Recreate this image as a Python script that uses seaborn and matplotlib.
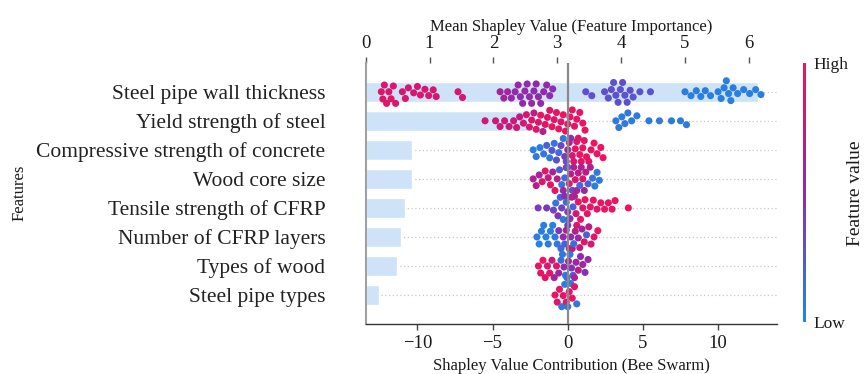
import warnings
warnings.filterwarnings("ignore")
import numpy as np
import pandas as pd
import matplotlib
matplotlib.use("Agg")
import matplotlib.pyplot as plt
import matplotlib as mpl
from matplotlib.colors import LinearSegmentedColormap
import seaborn as sns

# ---------------- data ----------------
features = ["Steel pipe wall thickness", "Yield strength of steel",
            "Compressive strength of concrete", "Wood core size",
            "Tensile strength of CFRP", "Number of CFRP layers",
            "Types of wood", "Steel pipe types"]
mean_importance = [6.14, 2.55, 0.73, 0.72, 0.62, 0.55, 0.49, 0.21]
top_ticks = [0, 1, 2, 3, 4, 5, 6]
bottom_ticks = [-10, -5, 0, 5, 10]

shap_wall = [-12.4, -12.3, -12.2, -12.05, -11.9, -11.75, -11.6, -11.45,
             -11.0, -10.8, -10.6, -10.25, -10.0, -9.8, -9.5, -9.25, -8.95, -8.75,
             -7.3, -7.0, -4.5, -4.25, -4.0, -3.75,
             -3.5, -3.3, -3.15, -3.0, -2.85, -2.7, -2.55, -2.4, -2.25, -2.1, -1.95, -1.8,
             -1.6, -1.4, -1.2, -1.0, 1.2, 1.6,
             2.45, 2.7, 2.9, 3.05, 3.2, 3.35, 3.5, 3.65, 3.8, 3.95, 4.15, 4.35,
             4.8, 5.5, 7.8, 8.2, 8.55, 8.85, 9.15, 9.5,
             10.0, 10.2, 10.4, 10.55, 10.7, 10.85, 11.0,
             11.3, 11.7, 12.1, 12.5, 12.85]
fval_wall = [0.88, 0.9, 0.86, 0.88, 0.85, 0.9, 0.87, 0.86, 0.85, 0.88, 0.84, 0.86,
             0.85, 0.87, 0.85, 0.88, 0.84, 0.86, 0.85, 0.83,
             0.62, 0.6, 0.58, 0.55,
             0.52, 0.55, 0.5, 0.53, 0.55, 0.5, 0.52, 0.54, 0.5, 0.53, 0.51, 0.52,
             0.5, 0.52, 0.5, 0.48, 0.3, 0.3,
             0.3, 0.28, 0.3, 0.27, 0.29, 0.3, 0.28, 0.3, 0.27, 0.29, 0.3, 0.28,
             0.28, 0.27,
             0.06, 0.05, 0.05, 0.04, 0.06, 0.05, 0.04, 0.05, 0.06, 0.05, 0.04, 0.05,
             0.06, 0.04, 0.05, 0.05, 0.04, 0.05]

shap_yield = [-5.5, -4.8, -4.5, -4.2, -3.9, -3.6, -3.4, -3.2, -2.95, -2.75,
              -2.55, -2.4, -2.25, -2.1, -1.95, -1.8, -1.65, -1.5, -1.35, -1.2, -1.05, -0.9, -0.75,
              -0.6, -0.45, -0.3, -0.15, 0.0, 0.15, 0.3, 0.45, 0.6, 0.8, 1.0, 1.15,
              3.2, 3.4, 3.6, 3.8, 4.0, 4.25, 4.6, 5.4, 6.1, 6.9, 7.5, 7.9]
fval_yield = [0.82, 0.8, 0.78, 0.8, 0.75, 0.78, 0.8, 0.72, 0.82, 0.85,
              0.88, 0.9, 0.7, 0.92, 0.88, 0.95, 0.65, 0.9, 0.93, 0.88, 0.95, 0.9, 0.92,
              0.95, 0.9, 0.97, 0.92, 0.95, 0.9, 0.96, 0.93, 0.95, 0.92, 0.97, 0.95,
              0.08, 0.1, 0.06, 0.08, 0.1, 0.07, 0.08, 0.06, 0.08, 0.07, 0.06, 0.08]

shap_concrete = [-2.3, -2.1, -1.85, -1.6, -1.4, -1.2, -1.05, -0.9, -0.75, -0.6,
                 -0.45, -0.3, -0.2, -0.1, 0.0, 0.1, 0.2, 0.3, 0.4, 0.5,
                 0.6, 0.7, 0.8, 0.9, 1.0, 1.1, 1.25, 1.4, 1.55, 1.75, 1.95, 2.2, 2.35]
fval_concrete = [0.05, 0.08, 0.05, 0.1, 0.2, 0.08, 0.25, 0.1, 0.3, 0.15,
                 0.35, 0.1, 0.4, 0.3, 0.55, 0.7, 0.45, 0.85, 0.9, 0.95,
                 0.88, 0.92, 0.97, 0.9, 0.95, 0.93, 0.98, 0.9, 0.95, 0.97, 0.92, 0.95, 0.98]

shap_core = [-2.3, -2.1, -1.9, -1.7, -1.5, -1.3, -1.15, -1.0, -0.85, -0.7,
             -0.55, -0.4, -0.3, -0.2, -0.1, 0.0, 0.1, 0.2, 0.3, 0.4,
             0.5, 0.6, 0.7, 0.8, 0.9, 1.0, 1.1, 1.2, 1.35, 1.5,
             1.65, 1.8, 1.95, 2.1]
fval_core = [0.65, 0.7, 0.6, 0.9, 0.95, 0.8, 0.9, 0.6, 0.95, 0.7,
             0.2, 0.1, 0.55, 0.15, 0.6, 0.2, 0.9, 0.7, 0.3, 0.65,
             0.85, 0.6, 0.7, 0.15, 0.65, 0.85, 0.6, 0.7, 0.2, 0.65,
             0.1, 0.05, 0.1, 0.08]

shap_cfrp_t = [-1.97, -1.4, -0.95, -0.8, -0.65, -0.5, -0.4, -0.3, -0.2, -0.1,
               0.0, 0.05, 0.15, 0.25, 0.35, 0.45, 0.55, 0.7, 0.85, 1.0,
               1.15, 1.3, 1.5, 1.7, 1.95, 2.2, 2.45, 2.7, 2.95, 3.15, 4.03]
fval_cfrp_t = [0.4, 0.42, 0.35, 0.1, 0.45, 0.2, 0.38, 0.08, 0.5, 0.15,
               0.4, 0.1, 0.45, 0.6, 0.2, 0.7, 0.85, 0.92, 0.95, 0.9,
               0.97, 0.92, 0.95, 0.98, 0.9, 0.95, 0.97, 0.93, 0.96, 0.98, 0.97]

shap_layers = [-2.05, -1.9, -1.75, -1.6, -1.45, -1.3, -1.15, -1.0, -0.85, -0.7,
               -0.6, -0.45, -0.3, -0.2, -0.1, 0.0, 0.1, 0.2, 0.3, 0.4,
               0.5, 0.6, 0.7, 0.8, 0.95, 1.1, 1.25, 1.4, 1.55, 1.75, 2.0]
fval_layers = [0.05, 0.04, 0.06, 0.05, 0.03, 0.07, 0.05, 0.04, 0.08, 0.1,
               0.45, 0.15, 0.55, 0.2, 0.6, 0.4, 0.85, 0.5, 0.7, 0.15,
               0.65, 0.88, 0.55, 0.75, 0.6, 0.9, 0.2, 0.7, 0.85, 0.92, 0.95]

shap_wood = [-1.95, -1.8, -1.65, -1.5, -1.35, -1.2, -1.05, -0.9, -0.75, -0.6,
             -0.45, -0.35, -0.25, -0.15, -0.05, 0.05, 0.15, 0.25, 0.35, 0.45,
             0.55, 0.7, 0.85, 1.0, 1.15, 1.35]
fval_wood = [0.95, 0.92, 0.97, 0.9, 0.85, 0.95, 0.8, 0.6, 0.9, 0.55,
             0.15, 0.1, 0.5, 0.08, 0.12, 0.6, 0.1, 0.45, 0.2, 0.65,
             0.55, 0.7, 0.5, 0.6, 0.45, 0.55]

shap_pipe = [-0.85, -0.7, -0.55, -0.4, -0.3, -0.2, -0.1, 0.0, 0.1, 0.2, 0.3, 0.45, 0.6]
fval_pipe = [0.95, 0.9, 0.95, 0.1, 0.92, 0.05, 0.95, 0.1, 0.9, 0.08, 0.95, 0.9, 0.1]

shap_lists = [shap_wall, shap_yield, shap_concrete, shap_core,
              shap_cfrp_t, shap_layers, shap_wood, shap_pipe]
fval_lists = [fval_wall, fval_yield, fval_concrete, fval_core,
              fval_cfrp_t, fval_layers, fval_wood, fval_pipe]

rows = []
for feat, sv, fv in zip(features, shap_lists, fval_lists):
    for s, f in zip(sv, fv):
        rows.append((feat, s, f))
swarm_df = pd.DataFrame(rows, columns=["feature", "shap", "fval"])
bar_df = pd.DataFrame({"feature": features, "importance": mean_importance})

# ---------------- style ----------------
sns.set_style("white")
plt.rcParams["font.family"] = ["Liberation Serif", "DejaVu Serif"]
plt.rcParams["axes.unicode_minus"] = True

cmap = LinearSegmentedColormap.from_list(
    "shap_like", ["#1e88e5", "#5557d2", "#8e2bae", "#c41a7c", "#f2125c"])
try:
    mpl.colormaps.register(cmap)
except Exception:
    pass

W, H = 865, 374
fig = plt.figure(figsize=(W / 100, H / 100), dpi=100)
ax_l, ax_r, ax_t, ax_b = 365.7, 776.7, 63.0, 323.5
ax = fig.add_axes([ax_l / W, 1 - ax_b / H, (ax_r - ax_l) / W, (ax_b - ax_t) / H])
ax2 = ax.twiny()

text_col = "#1a1a1a"

# bars (mean importance) on top axis
sns.barplot(data=bar_df, x="importance", y="feature", order=features, orient="h",
            color="#cfe3f8", saturation=1, width=0.7, ax=ax, zorder=1)
ax.set_xlim(0, 6.44)
ax.set_xticks(top_ticks)
ax.xaxis.tick_top()
ax.xaxis.set_label_position("top")
ax.set_xlabel("Mean Shapley Value (Feature Importance)", fontsize=12, color=text_col, labelpad=3)
ax.tick_params(axis="x", which="both", direction="out", length=4, width=1,
               color="#555555", labelsize=13.5, labelcolor=text_col, pad=4,
               top=True, bottom=False, labeltop=True, labelbottom=False)
ax.set_axisbelow(True)
ax.yaxis.grid(True, linestyle=(0, (1, 2)), color="#c8c8c8", linewidth=0.9, zorder=0)
ax.xaxis.grid(False)

# bee swarm on bottom axis
sns.swarmplot(data=swarm_df, x="shap", y="feature", hue="fval", order=features,
              palette="shap_like", hue_norm=(0, 1), orient="h", size=5.1,
              linewidth=0, legend=False, ax=ax2, zorder=3)
ax2.axvline(0, color="#8a8a8a", linewidth=1.6, zorder=4)
ax2.set_xlim(-13.44, 13.9)
ax2.set_xticks(bottom_ticks)
ax2.xaxis.tick_bottom()
ax2.xaxis.set_label_position("bottom")
ax2.set_xlabel("Shapley Value Contribution (Bee Swarm)", fontsize=12, color=text_col, labelpad=4)
ax2.tick_params(axis="x", which="both", direction="out", length=4, width=1,
                color="#444444", labelsize=13.5, labelcolor=text_col, pad=4.5,
                bottom=True, top=False, labelbottom=True, labeltop=False)

ax.set_ylim(7.98, -0.99)
ax.set_yticks(range(len(features)))
ax.set_yticklabels(features)
ax.tick_params(axis="y", length=0, pad=29, labelsize=15.5, labelcolor="#222222")
ax.set_ylabel("Features", fontsize=12, color=text_col)
ax.yaxis.set_label_coords(-0.823, 0.5)

for sp in ["top", "right", "bottom"]:
    ax.spines[sp].set_visible(False)
ax.spines["left"].set_color("#a0a0a0")
ax.spines["left"].set_linewidth(1.5)
for sp in ["top", "right", "left"]:
    ax2.spines[sp].set_visible(False)
ax2.spines["bottom"].set_color("#333333")
ax2.spines["bottom"].set_linewidth(1.0)

# colorbar
cax = fig.add_axes([802.5 / W, 1 - 322 / H, 3.6 / W, (322 - 63) / H])
sm = mpl.cm.ScalarMappable(norm=mpl.colors.Normalize(0, 1), cmap=cmap)
cb = fig.colorbar(sm, cax=cax, ticks=[0, 1])
cb.outline.set_visible(False)
cb.set_ticklabels(["Low", "High"])
cax.tick_params(length=0, pad=5, labelsize=12.5, labelcolor=text_col)
fig.text(855 / W, 1 - 193.5 / H, "Feature value", rotation=90, ha="center",
         va="center", fontsize=14, color=text_col)

fig.savefig("out.png", dpi=100)
